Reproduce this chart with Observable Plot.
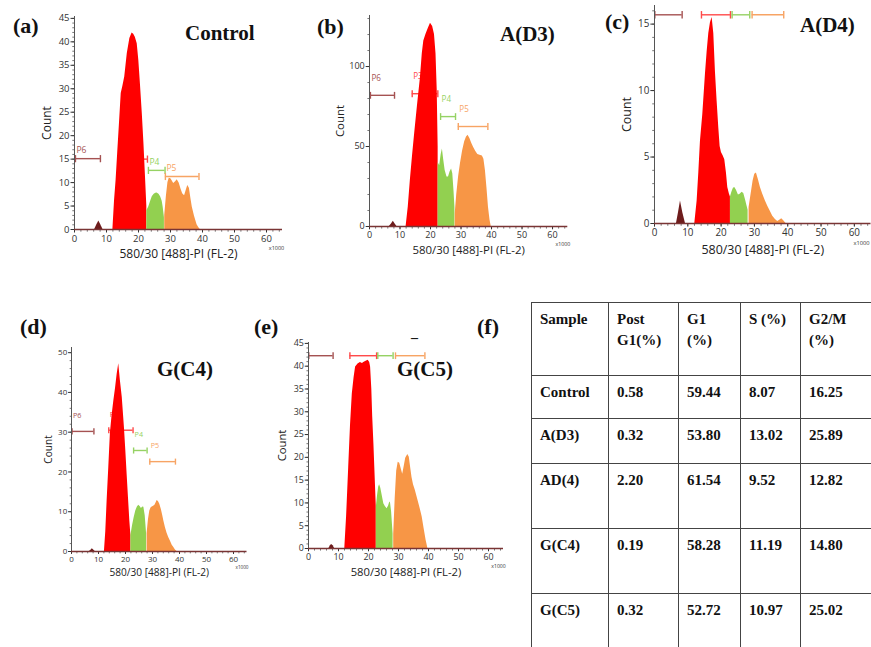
<!DOCTYPE html>
<html>
<head>
<meta charset="utf-8">
<script src="https://cdn.jsdelivr.net/npm/d3@7"></script>
<script src="https://cdn.jsdelivr.net/npm/@observablehq/plot@0.6"></script>
<style>
  body { margin: 0; background: #fff; }
  #root { position: relative; width: 871px; height: 647px; overflow: hidden; background: #fff; }
  .ttl { position: absolute; font-family: 'Liberation Serif', 'Times New Roman', serif; font-weight: bold; line-height: 1; white-space: nowrap; color: #111; }
  table.tb { position: absolute; left: 531px; top: 302px; width: 359px; border-collapse: collapse; table-layout: fixed;
    font-family: 'Liberation Serif', 'Times New Roman', serif; font-weight: bold; font-size: 15px; line-height: 21px; color: #111; }
  table.tb td { border: 1px solid #444; vertical-align: top; padding: 6px 0 0 8px; white-space: nowrap; }
  table.tb td:last-child { border-right: none; }
</style>
</head>
<body>
<div id="root"></div>
<script>
// ---------------- DATA ----------------
const xTicks = [0, 10, 20, 30, 40, 50, 60];
const xLabel = "580/30 [488]-PI (FL-2)";
const yLabel = "Count";
const xUnit = "x1000";

const panelLetters = ["(a)", "(b)", "(c)", "(d)", "(e)", "(f)"];
const panelTitles = ["Control", "A(D3)", "A(D4)", "G(C4)", "G(C5)"];

// (a) Control
const aYTicks = [0, 5, 10, 15, 20, 25, 30, 35, 40, 45];
const aBrownX = [6.3, 7.0, 7.6, 8.2, 8.9];
const aBrownY = [0, 1.0, 1.8, 1.0, 0];
const aRedX = [12.0, 12.5, 13.0, 13.5, 14.0, 14.6, 15.1, 15.7, 16.5, 17.3, 18.0, 18.5, 19.0, 19.6, 20.1, 20.6, 21.2, 21.7, 22.2, 22.6];
const aRedY = [0, 6, 10.5, 16.3, 22, 29, 30.5, 32.5, 37.5, 40.7, 41.9, 41.6, 41, 39.6, 36, 31, 24.5, 18.3, 11, 5];
const aGreenX = [22.6, 23.2, 23.8, 24.3, 24.9, 25.4, 25.8, 26.4, 26.9, 27.4, 27.7, 28.1];
const aGreenY = [4, 4.8, 6.0, 7.0, 7.5, 7.7, 7.8, 7.5, 7.0, 6.0, 4.8, 2.5];
const aOrangeX = [28.2, 28.7, 29.2, 29.6, 30.1, 30.5, 31.0, 31.6, 32.1, 32.7, 33.3, 33.8, 34.4, 35.0, 35.4, 35.9, 36.4, 36.8, 37.5, 38.3, 38.8, 39.3];
const aOrangeY = [3, 7, 10, 10.9, 10.8, 10.4, 9.8, 10.2, 10.6, 9.9, 8.6, 7.6, 7.2, 8.5, 9.4, 8.8, 6.5, 4.8, 2.8, 1.0, 0.4, 0];
const aGates = [
  { n: "P6", x1: 0.3, x2: 8.1, y: 15.1 },
  { n: "P3", x1: 14.0, x2: 22.8, y: 15.0 },
  { n: "P4", x1: 23.1, x2: 28.3, y: 12.6 },
  { n: "P5", x1: 28.4, x2: 38.9, y: 11.3 }
];

// (b) A(D3)
const bYTicks = [0, 50, 100];
const bBrownX = [6.5, 7.2, 7.8, 8.4, 9.0];
const bBrownY = [0, 1.6, 3.3, 1.6, 0];
const bRedX = [12.0, 12.7, 13.4, 14.1, 14.8, 15.7, 16.7, 17.3, 17.8, 18.5, 19.3, 20.0, 20.7, 21.3, 21.8, 22.2, 22.5];
const bRedY = [0, 12, 29, 44, 58, 75, 93, 108, 116, 120, 124, 127, 125, 120, 108, 85, 50];
const bGreenX = [22.5, 23.0, 23.5, 23.9, 24.3, 24.8, 25.4, 25.9, 26.4, 26.9, 27.3, 27.7, 28.0];
const bGreenY = [40, 38, 45, 48.5, 42, 35, 31, 31, 34, 36, 33, 22, 12];
const bOrangeX = [28.1, 28.6, 29.2, 29.8, 30.5, 31.2, 31.8, 32.3, 32.9, 33.5, 34.1, 34.8, 35.5, 36.2, 37.0, 37.5, 38.0, 38.5, 39.0, 39.5, 39.9];
const bOrangeY = [8, 20, 31, 39, 47, 53, 56, 57, 55, 52, 49.5, 47, 45, 44.5, 44, 42, 35, 24, 12, 4, 0];
const bGates = [
  { n: "P6", x1: 0.3, x2: 8.2, y: 82 },
  { n: "P3", x1: 14.0, x2: 22.4, y: 83 },
  { n: "P4", x1: 23.3, x2: 28.2, y: 68.7 },
  { n: "P5", x1: 29.1, x2: 38.8, y: 62.5 }
];

// (c) A(D4)
const cYTicks = [0, 5, 10, 15];
const cBrownX = [6.6, 7.2, 7.8, 8.5, 9.3];
const cBrownY = [0, 0.8, 1.7, 0.8, 0];
const cRedX = [12.1, 12.8, 13.3, 13.8, 14.5, 15.3, 15.8, 16.3, 16.8, 17.3, 17.8, 18.3, 18.8, 19.3, 19.7, 20.1, 20.6, 21.1, 21.6, 22.0, 22.5, 22.8];
const cRedY = [0, 1.7, 3.8, 6.2, 8.2, 11.25, 12.9, 14.3, 15.1, 15.5, 14.3, 11.4, 9.2, 7.2, 5.8, 5.35, 5.1, 4.8, 3.8, 2.7, 2.2, 2.0];
const cGreenX = [22.8, 23.3, 23.7, 24.1, 24.6, 25.2, 25.7, 26.3, 26.8, 27.3, 27.8, 28.1];
const cGreenY = [2.0, 2.4, 2.65, 2.7, 2.5, 2.15, 2.2, 2.35, 2.25, 1.8, 1.3, 1.0];
const cOrangeX = [28.4, 29.0, 29.6, 30.1, 30.6, 31.2, 31.8, 32.5, 33.3, 34.0, 34.8, 35.5, 36.3, 37.0, 37.6, 38.2, 38.8, 39.5];
const cOrangeY = [1.2, 2.2, 3.2, 3.7, 3.8, 3.3, 2.7, 2.2, 1.7, 1.3, 0.9, 0.55, 0.3, 0.15, 0.25, 0.35, 0.2, 0];
const cGates = [
  { n: "P6", x1: 0.1, x2: 8.3, y: 15.7 },
  { n: "P3", x1: 14.1, x2: 22.8, y: 15.7 },
  { n: "P4", x1: 23.3, x2: 28.6, y: 15.7 },
  { n: "P5", x1: 29.3, x2: 38.8, y: 15.7 }
];

// (d) G(C4)
const dYTicks = [0, 10, 20, 30, 40, 50];
const dBrownX = [6.6, 7.3, 7.7, 8.2, 8.8];
const dBrownY = [0, 0.4, 0.7, 0.4, 0];
const dRedX = [12.2, 12.7, 13.2, 13.8, 14.4, 15.0, 15.7, 16.3, 16.9, 17.5, 18.1, 18.8, 19.6, 20.1, 20.6, 21.1, 21.6, 22.0];
const dRedY = [0, 5, 12.8, 21, 29.6, 34, 38, 41, 44.5, 47.2, 43, 38.7, 31.2, 25.5, 19.4, 13.5, 7.7, 4];
const dGreenX = [22.0, 22.6, 23.2, 23.8, 24.4, 24.9, 25.4, 25.9, 26.4, 26.8, 27.3, 27.8];
const dGreenY = [4, 6.5, 8.5, 10.2, 11.2, 11.6, 11.3, 10.8, 11.2, 11.1, 9, 4.5];
const dOrangeX = [28.0, 28.5, 29.0, 29.5, 29.9, 30.4, 30.9, 31.4, 31.7, 32.2, 32.7, 33.3, 33.8, 34.2, 34.8, 35.4, 36.0, 36.7, 37.3, 37.9, 38.5, 39.1];
const dOrangeY = [4.5, 8, 10.2, 11, 11.2, 11.4, 11.6, 12.3, 12.8, 12.6, 11.9, 10.5, 9, 7.7, 6, 4.6, 3.5, 2.5, 1.6, 1, 0.4, 0];
const dGates = [
  { n: "P6", x1: 0.2, x2: 8.3, y: 30.2 },
  { n: "P3", x1: 13.8, x2: 22.8, y: 30.5 },
  { n: "P4", x1: 23.0, x2: 28.0, y: 25.4 },
  { n: "P5", x1: 29.0, x2: 38.5, y: 22.6 }
];

// (e) G(C5)
const eYTicks = [0, 5, 10, 15, 20, 25, 30, 35, 40, 45];
const eBrownX = [6.8, 7.3, 7.7, 8.2, 8.7];
const eBrownY = [0, 0.6, 0.9, 0.6, 0];
const eRedX = [12.1, 12.7, 13.4, 14.0, 14.6, 15.2, 15.7, 16.5, 17.3, 18.0, 18.4, 19.2, 19.9, 20.4, 20.7, 21.1, 21.4, 21.8, 22.1, 22.6];
const eRedY = [0, 7, 17.8, 27, 33.9, 37.5, 39.8, 40.5, 40.8, 40.6, 40.8, 41.1, 41.3, 40.8, 39.8, 35, 28.9, 23, 17.8, 9];
const eGreenX = [22.6, 23.0, 23.4, 23.7, 24.1, 24.6, 25.1, 25.6, 26.2, 26.7, 27.0, 27.3, 27.7, 28.2];
const eGreenY = [9, 11.5, 13.5, 14, 13.2, 11.5, 9.8, 9.2, 8.7, 9.3, 10, 10.2, 8, 3.2];
const eOrangeX = [28.4, 28.9, 29.4, 29.9, 30.4, 30.9, 31.4, 31.9, 32.4, 33.1, 33.6, 34.0, 34.5, 35.0, 35.6, 36.2, 36.8, 37.4, 37.9, 38.5, 39.2, 39.8];
const eOrangeY = [3, 11, 17, 18.9, 18.7, 17.5, 16.3, 18, 19.8, 20.6, 20, 18, 15.6, 14, 12.8, 11.3, 9.8, 8.3, 6.9, 4.5, 1.8, 0];
const eGates = [
  { n: "P6", x1: 0.1, x2: 8.2, y: 42.3 },
  { n: "P3", x1: 13.8, x2: 22.7, y: 42.3 },
  { n: "P4", x1: 23.1, x2: 28.2, y: 42.3 },
  { n: "P5", x1: 29.0, x2: 38.8, y: 42.3 }
];

// (f) table
const tableHeader = [["Sample"], ["Post", "G1(%)"], ["G1", "(%)"], ["S (%)"], ["G2/M", "(%)"]];
const tableSamples = ["Control", "A(D3)", "AD(4)", "G(C4)", "G(C5)"];
const postG1 = ["0.58", "0.32", "2.20", "0.19", "0.32"];
const g1Pct = ["59.44", "53.80", "61.54", "58.28", "52.72"];
const sPct = ["8.07", "13.02", "9.52", "11.19", "10.97"];
const g2mPct = ["16.25", "25.89", "12.82", "14.80", "25.02"];

// ---------------- STYLE ----------------
const regionColors = { brown: "#6e1c1c", red: "#ff0000", green: "#92d050", orange: "#f79646" };
const gateColors = { P6: "#a55252", P3: "#ff4a4a", P4: "#96d264", P5: "#f7a464" };
const sans = "'Open Sans', 'DejaVu Sans', sans-serif";

const capSym = { draw(ctx, size) { const r = Math.sqrt(size / Math.PI); ctx.moveTo(0, -r); ctx.lineTo(0, r); } };
const downSym = { draw(ctx, size) { const r = Math.sqrt(size / Math.PI); ctx.moveTo(0, 0); ctx.lineTo(0, r); } };
const leftSym = { draw(ctx, size) { const r = Math.sqrt(size / Math.PI); ctx.moveTo(0, 0); ctx.lineTo(-r, 0); } };

const root = document.getElementById("root");

function regions(bx, by, rx, ry, gx, gy, ox, oy) {
  return [
    { c: "brown", x: bx, y: by }, { c: "red", x: rx, y: ry },
    { c: "green", x: gx, y: gy }, { c: "orange", x: ox, y: oy }
  ];
}

function drawPanel(p) {
  const k = p.k;
  const mL = 50, mR = 18, mT = 12, mB = 40;
  const w = p.xr - p.x0, h = p.y0 - p.yt;
  const marks = [];
  // gates (drawn beneath the histogram)
  p.gates.forEach(g => {
    const col = gateColors[g.n];
    marks.push(Plot.ruleY([g], { x1: "x1", x2: "x2", y: "y", stroke: col, strokeWidth: 1.4 }));
    marks.push(Plot.dot([{ x: g.x1, y: g.y }, { x: g.x2, y: g.y }], { x: "x", y: "y", symbol: capSym, r: 3.6 * k, stroke: col, fill: "none", strokeWidth: 1.4 }));
    if (p.labels) {
      marks.push(Plot.text([g], { x: "x1", y: "y", text: "n", dy: p.labelDy, dx: 1, textAnchor: "start", lineAnchor: "middle", fill: col, fontSize: 8.5 * k }));
    }
  });
  // histogram regions
  p.regions.forEach(r => {
    const data = r.x.map((x, i) => ({ x, y: r.y[i] }));
    marks.push(Plot.areaY(data, { x: "x", y: "y", fill: regionColors[r.c], curve: "linear" }));
  });
  // minor ticks
  marks.push(Plot.dot(d3.range(0, 65.1, 2), { x: d => d, frameAnchor: "bottom", symbol: downSym, r: 2.2 * k, stroke: "#555", fill: "none", strokeWidth: 0.8 }));
  marks.push(Plot.dot(p.yMinor, { y: d => d, frameAnchor: "left", symbol: leftSym, r: 2.2 * k, stroke: "#555", fill: "none", strokeWidth: 0.8 }));
  // axes
  marks.push(Plot.axisX({ ticks: xTicks, tickSize: 3.5 * k, tickPadding: 2 * k, fontSize: 9.5 * k, label: null, color: "#333" }));
  marks.push(Plot.axisY({ ticks: p.yTicks, tickSize: 3.5 * k, tickPadding: 1.5 * k, fontSize: 9.5 * k, label: null, color: "#333" }));
  marks.push(Plot.ruleX([0], { stroke: "#555", strokeWidth: 1 }));
  marks.push(Plot.ruleY([0], { stroke: "#7a3434", strokeWidth: 1.6 }));
  // labels
  marks.push(Plot.text([yLabel], { frameAnchor: "left", dx: p.countDx, rotate: -90, textAnchor: "middle", lineAnchor: "middle", fontSize: 12 * k, fill: "#222" }));
  marks.push(Plot.text([xLabel], { frameAnchor: "bottom", dy: 25 * k, textAnchor: "middle", lineAnchor: "middle", fontSize: 12 * k, fill: "#222" }));
  marks.push(Plot.text([xUnit], { frameAnchor: "bottom-right", dy: 19 * k, dx: p.unitDx, textAnchor: "middle", lineAnchor: "middle", fontSize: 5.5 * k, fill: "#333" }));

  const chart = Plot.plot({
    width: w + mL + mR, height: h + mT + mB,
    marginLeft: mL, marginRight: mR, marginTop: mT, marginBottom: mB,
    style: { background: "transparent", overflow: "visible", fontFamily: sans },
    x: { domain: [0, 65] },
    y: { domain: [0, p.ymax] },
    marks
  });
  chart.style.position = "absolute";
  chart.style.left = (p.x0 - mL) + "px";
  chart.style.top = (p.yt - mT) + "px";
  root.appendChild(chart);
}

const panels = [
  { x0: 74, xr: 282, y0: 229, yt: 16, ymax: 45.4, k: 1.0, countDx: -27, labels: true, labelDy: -8, unitDx: -6,
    yTicks: aYTicks, yMinor: d3.range(0, 45.1, 1), gates: aGates,
    regions: regions(aBrownX, aBrownY, aRedX, aRedY, aGreenX, aGreenY, aOrangeX, aOrangeY) },
  { x0: 369, xr: 567.3, y0: 226, yt: 15, ymax: 131.9, k: 0.953, countDx: -29, labels: true, labelDy: -17, unitDx: -5,
    yTicks: bYTicks, yMinor: d3.range(0, 131, 10), gates: bGates,
    regions: regions(bBrownX, bBrownY, bRedX, bRedY, bGreenX, bGreenY, bOrangeX, bOrangeY) },
  { x0: 654, xr: 870.5, y0: 223, yt: 5, ymax: 16.4, k: 1.04, countDx: -28, labels: false, labelDy: 0, unitDx: -9.5,
    yTicks: cYTicks, yMinor: d3.range(0, 16.1, 1), gates: cGates,
    regions: regions(cBrownX, cBrownY, cRedX, cRedY, cGreenX, cGreenY, cOrangeX, cOrangeY) },
  { x0: 71, xr: 246.5, y0: 551, yt: 347, ymax: 51.3, k: 0.844, countDx: -23, labels: true, labelDy: -16, unitDx: -5,
    yTicks: dYTicks, yMinor: d3.range(0, 51, 2), gates: dGates,
    regions: regions(dBrownX, dBrownY, dRedX, dRedY, dGreenX, dGreenY, dOrangeX, dOrangeY) },
  { x0: 308, xr: 503, y0: 548, yt: 342, ymax: 45.2, k: 0.9375, countDx: -26, labels: false, labelDy: 0, unitDx: -5,
    yTicks: eYTicks, yMinor: d3.range(0, 45.1, 1), gates: eGates,
    regions: regions(eBrownX, eBrownY, eRedX, eRedY, eGreenX, eGreenY, eOrangeX, eOrangeY) }
];
panels.forEach(drawPanel);

// titles
function addTitle(txt, left, top, size) {
  const d = document.createElement("div");
  d.className = "ttl";
  d.textContent = txt;
  d.style.left = left + "px"; d.style.top = top + "px"; d.style.fontSize = size + "px";
  root.appendChild(d);
}
const letterPos = [[13, 15], [317, 16], [605, 11], [20, 316], [254, 316], [477, 316]];
panelLetters.forEach((t, i) => addTitle(t, letterPos[i][0], letterPos[i][1], 22));
const titlePos = [[185, 23], [500, 24], [800, 15], [157, 359], [397, 359]];
panelTitles.forEach((t, i) => addTitle(t, titlePos[i][0], titlePos[i][1], 21));
addTitle("–", 411, 331, 14);

// table (f)
const tb = document.createElement("table");
tb.className = "tb";
const colW = [77, 70, 62, 60, 90];
const rowH = [73, 43, 45, 65, 65, 60];
const cg = document.createElement("colgroup");
colW.forEach(wd => { const c = document.createElement("col"); c.style.width = wd + "px"; cg.appendChild(c); });
tb.appendChild(cg);
const rows = [tableHeader].concat(tableSamples.map((s, i) => [[s], [postG1[i]], [g1Pct[i]], [sPct[i]], [g2mPct[i]]]));
rows.forEach((r, ri) => {
  const tr = document.createElement("tr");
  tr.style.height = rowH[ri] + "px";
  r.forEach(cell => {
    const td = document.createElement("td");
    cell.forEach((line, li) => {
      if (li) td.appendChild(document.createElement("br"));
      td.appendChild(document.createTextNode(line));
    });
    tr.appendChild(td);
  });
  tb.appendChild(tr);
});
root.appendChild(tb);
</script>
</body>
</html>
